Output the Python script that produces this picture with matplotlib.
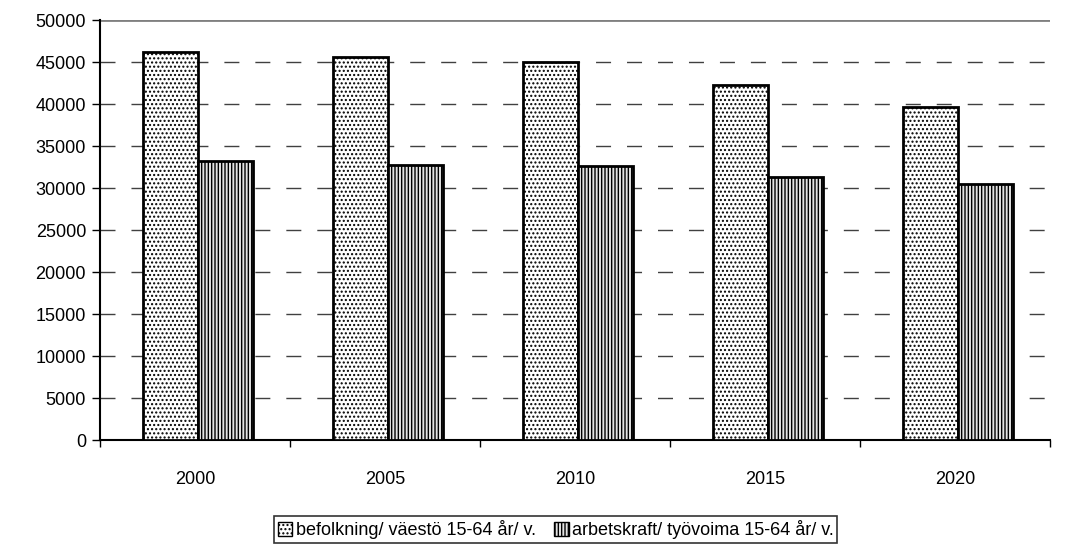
import matplotlib.pyplot as plt
import matplotlib.patches as mpatches
import numpy as np

plt.rcParams['font.family'] = ['Liberation Sans', 'DejaVu Sans']
plt.rcParams['hatch.linewidth'] = 1.0
plt.rcParams['hatch.color'] = '#707070'

years = ['2000', '2005', '2010', '2015', '2020']
befolkning = [46200, 45600, 45000, 42250, 39650]     # väestö 15-64 år/v.
arbetskraft = [33200, 32750, 32600, 31300, 30500]    # työvoima 15-64 år/v.

lbl_bef = 'befolkning/ väestö 15-64 år/ v.'
lbl_arb = 'arbetskraft/ työvoima 15-64 år/ v.'

fig = plt.figure(figsize=(10.65, 5.47), dpi=100)
ax = fig.add_axes([0.0939, 0.1956, 0.8921, 0.7678])

x = np.arange(len(years))
w = 0.29
off = 0.015

ax.bar(x - w/2 + off, befolkning, w, facecolor='white', edgecolor='black', linewidth=2,
       hatch='....', zorder=3)
ax.bar(x + w/2 + off, arbetskraft, w, facecolor='#e4e4e4', edgecolor='black', linewidth=2,
       hatch='|||||', zorder=3)

ax.set_xlim(-0.5, len(years) - 0.5)
ax.set_ylim(0, 50000)
ax.set_yticks(range(0, 50001, 5000))

# gridlines: dashed, top one solid gray
for v in range(5000, 50000, 5000):
    ax.axhline(v, color='#404040', lw=1, dashes=(10.8, 11.5), zorder=1)
ax.axhline(50000, color='#808080', lw=2, zorder=1)

ax.set_xticks(x)
ax.set_xticklabels(years)
ax.set_xticks(np.arange(-0.5, len(years), 1), minor=True)
ax.tick_params(axis='x', which='major', length=0, pad=22, labelsize=13)
ax.tick_params(axis='x', which='minor', length=5, width=1, direction='out')
ax.tick_params(axis='y', length=6, width=1, direction='out', labelsize=13, pad=4)

for s in ['top', 'right']:
    ax.spines[s].set_visible(False)
ax.spines['left'].set_linewidth(1.5)
ax.spines['bottom'].set_linewidth(1.5)

h1 = mpatches.Patch(facecolor='white', edgecolor='black', hatch='....', label=lbl_bef)
h2 = mpatches.Patch(facecolor='#e4e4e4', edgecolor='black', hatch='|||||', label=lbl_arb)
leg = fig.legend(handles=[h1, h2], loc='upper center', bbox_to_anchor=(0.522, 0.056),
                 ncol=2, fontsize=13, frameon=True, fancybox=False,
                 handlelength=0.8, handleheight=0.8, handletextpad=0.2,
                 columnspacing=1.0, borderaxespad=0, borderpad=0.2)
leg.get_frame().set_edgecolor('black')
leg.get_frame().set_linewidth(1.2)

fig.savefig('out.png', dpi=100)
